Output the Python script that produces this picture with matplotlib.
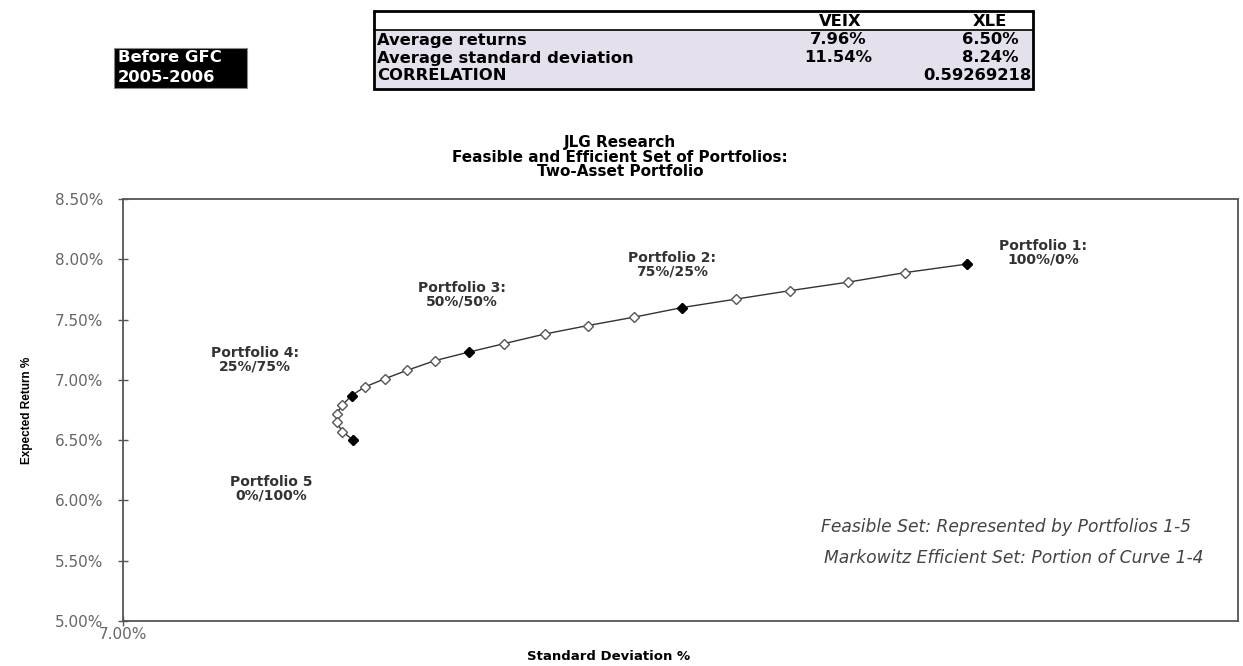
import matplotlib
matplotlib.use("Agg")
import matplotlib.pyplot as plt
from matplotlib.patches import Rectangle
from matplotlib.ticker import FormatStrFormatter

plt.rcParams['font.family'] = ['DejaVu Sans']

# portfolio curve, VEIX weight 100% -> 0% in 5% steps (std %, return %)
std_dev = [11.54, 11.21, 10.90, 10.59, 10.30, 10.01, 9.75, 9.50, 9.27, 9.05, 8.86,
           8.68, 8.53, 8.41, 8.30, 8.23, 8.18, 8.15, 8.15, 8.18, 8.24]
exp_ret = [7.96, 7.89, 7.81, 7.74, 7.67, 7.60, 7.52, 7.45, 7.38, 7.30, 7.23,
           7.16, 7.08, 7.01, 6.94, 6.87, 6.79, 6.72, 6.65, 6.57, 6.50]
key_idx = [0, 5, 10, 15, 20]
key_labels = ["Portfolio 1:\n100%/0%", "Portfolio 2:\n75%/25%", "Portfolio 3:\n50%/50%",
              "Portfolio 4:\n25%/75%", "Portfolio 5\n0%/100%"]
label_pos = [(11.95, 8.056), (9.955, 7.953), (8.824, 7.704), (7.71, 7.165), (7.796, 6.095)]

# summary table
tbl_cols = ["", "VEIX", "XLE"]
tbl_rows = ["Average returns", "Average standard deviation", "CORRELATION"]
veix_vals = ["7.96%", "11.54%", ""]
xle_vals = ["6.50%", "8.24%", "0.59269218"]

W, H = 1243, 666
fig = plt.figure(figsize=(W / 100, H / 100), dpi=100)

def fx(px):
    return px / W

def fy(py):
    return 1 - py / H

# ---- table at the top
tfs = 11.8
fig.patches.append(Rectangle((fx(374), fy(89)), fx(1033) - fx(374), fy(30) - fy(89),
                             transform=fig.transFigure, facecolor='#e4e0ec', edgecolor='none'))
fig.patches.append(Rectangle((fx(374), fy(89)), fx(1033) - fx(374), fy(11) - fy(89),
                             transform=fig.transFigure, facecolor='none', edgecolor='black', lw=2))
fig.add_artist(plt.Line2D([fx(374), fx(1033)], [fy(30), fy(30)], color='black', lw=1.2))
fig.text(fx(840), fy(21), tbl_cols[1], ha='center', va='center', fontsize=tfs, fontweight='bold')
fig.text(fx(990), fy(21), tbl_cols[2], ha='center', va='center', fontsize=tfs, fontweight='bold')
for i, name in enumerate(tbl_rows):
    yy = 40 + i * 18
    fig.text(fx(377), fy(yy), name, ha='left', va='center', fontsize=tfs, fontweight='bold')
    if veix_vals[i]:
        fig.text(fx(838), fy(yy), veix_vals[i], ha='center', va='center', fontsize=tfs,
                 fontweight='bold')
    if i < 2:
        fig.text(fx(990), fy(yy), xle_vals[i], ha='center', va='center', fontsize=tfs,
                 fontweight='bold')
    else:
        fig.text(fx(1031), fy(yy), xle_vals[i], ha='right', va='center', fontsize=tfs,
                 fontweight='bold')

# ---- black label box
fig.patches.append(Rectangle((fx(114), fy(88)), fx(247) - fx(114), fy(48) - fy(88),
                             transform=fig.transFigure, facecolor='black', edgecolor='#888888', lw=0.8))
fig.text(fx(118), fy(58), "Before GFC", ha='left', va='center', color='white',
         fontsize=tfs, fontweight='bold')
fig.text(fx(118), fy(77), "2005-2006", ha='left', va='center', color='white',
         fontsize=tfs, fontweight='bold')

# ---- main chart
ax = fig.add_axes([fx(123), fy(621), fx(1238) - fx(123), fy(199) - fy(621)])
ax.plot(std_dev, exp_ret, color='#333333', lw=1.0, zorder=2)
ax.plot(std_dev, exp_ret, ls='none', marker='D', ms=5.5, mfc='white', mec='#555555',
        mew=1.0, zorder=3)
ax.plot([std_dev[i] for i in key_idx], [exp_ret[i] for i in key_idx], ls='none',
        marker='D', ms=5.5, mfc='black', mec='black', zorder=4)

for (lx, ly), txt in zip(label_pos, key_labels):
    ax.text(lx, ly, txt, ha='center', va='center', fontsize=10, fontweight='bold',
            color='#333333', linespacing=0.95)

ax.text(11.754, 5.780, "Feasible Set: Represented by Portfolios 1-5", ha='center',
        va='center', fontsize=12.3, style='italic', color='#444444')
ax.text(11.792, 5.523, "Markowitz Efficient Set: Portion of Curve 1-4", ha='center',
        va='center', fontsize=12.3, style='italic', color='#444444')

ax.set_xlim(7, 13)
ax.set_ylim(5, 8.5)
ax.set_yticks([5.0, 5.5, 6.0, 6.5, 7.0, 7.5, 8.0, 8.5])
ax.set_xticks([7.0])
ax.yaxis.set_major_formatter(FormatStrFormatter('%.2f%%'))
ax.xaxis.set_major_formatter(FormatStrFormatter('%.2f%%'))
ax.tick_params(axis='both', direction='inout', length=7, width=1, color='#555555',
               labelsize=11, labelcolor='#666666')
ax.tick_params(axis='y', pad=10.5)
ax.tick_params(axis='x', pad=1)
for sp in ax.spines.values():
    sp.set_color('#555555')
    sp.set_linewidth(1.3)

ax.set_ylabel("Expected Return %", fontsize=8.5, fontweight='bold', family='Liberation Sans')
ax.yaxis.set_label_coords(-0.0807, 0.5)
fig.text(fx(609), fy(657), "Standard Deviation %", ha='center', va='center',
         fontsize=9.5, fontweight='bold')
title_lines = ["JLG Research", "Feasible and Efficient Set of Portfolios:", "Two-Asset Portfolio"]
for k, line in enumerate(title_lines):
    fig.text(fx(620), fy(142 + 15 * k), line, ha='center', va='center', fontsize=11,
             fontweight='bold')

fig.savefig("out.png", dpi=100)
